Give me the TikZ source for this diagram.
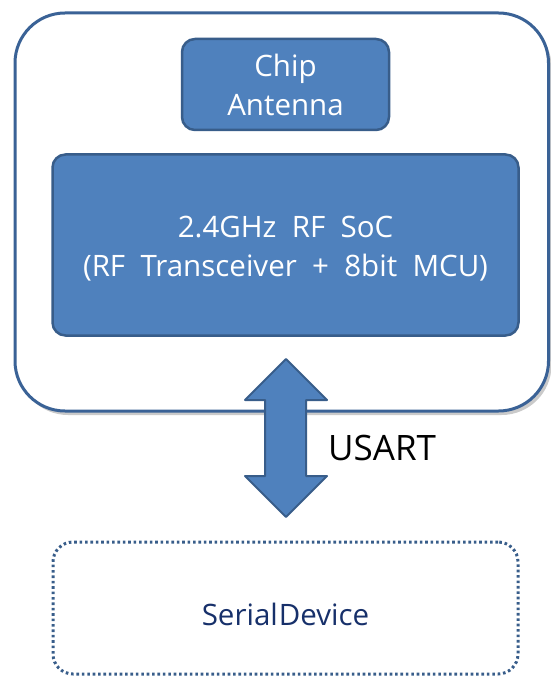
\documentclass[tikz,border=0pt]{standalone}
\usepackage{fontspec}
\setmainfont{Open Sans}
\usetikzlibrary{shadows,calc}
\definecolor{boxfill}{HTML}{4F81BD}
\definecolor{boxline}{HTML}{385D8A}
\definecolor{outerline}{HTML}{3A6296}
\definecolor{navytext}{HTML}{17306A}
\tikzset{
  blockbox/.style={draw=boxline, fill=boxfill, line width=2.5pt, rounded corners=13pt,
    text=white, align=center, font=\fontsize{29.5}{39}\selectfont, inner sep=0pt},
  moduleframe/.style={draw=outerline, line width=3pt, rounded corners=50pt, fill=white,
    drop shadow={shadow xshift=3pt, shadow yshift=-4pt, opacity=0.35, fill=black!60}},
  devicebox/.style={draw=boxline, line width=3pt, dash pattern=on 2.6pt off 2.8pt,
    rounded corners=20pt, text=navytext, font=\fontsize{29.5}{36}\selectfont},
  busarrow/.style={draw=boxline, fill=boxfill, line width=2pt, line join=round},
  buslabel/.style={text=black, font=\fontsize{35}{40}\selectfont, anchor=base west, inner sep=0pt}
}
\begin{document}
\begin{tikzpicture}[x=1pt, y=-1pt]
  \useasboundingbox (0,0) rectangle (550,684);
  % module outline
  \draw[moduleframe] (15,13) rectangle (548.5,411);
  % antenna and SoC blocks
  \node[blockbox, minimum width=207pt, minimum height=91pt] (antenna) at (285.5,84.5) {Chip\\Antenna};
  \node[blockbox, minimum width=466pt, minimum height=181pt] (soc) at (285.5,245) {};
  \node[text=white, align=center, font=\fontsize{29.5}{39}\selectfont, inner sep=0pt] (soclabel)
    at ($(soc.center)+(0,4)$) {2.4GHz\ \ RF\ \ SoC\\(RF\ \ Transceiver\ \ +\ \ 8bit\ \ MCU)};
  % external serial device
  \node[devicebox, minimum width=465pt, minimum height=132pt] (dev) at (285.5,608) {};
  \node[text=navytext, font=\fontsize{29.5}{36}\selectfont, inner sep=0pt] (devlabel)
    at ($(dev.center)+(0,6)$) {Serial\kern1pt Device};
  % bidirectional USART block arrow
  \coordinate (top) at (286,359);
  \coordinate (bot) at (286,517);
  \draw[busarrow] (top) -- ($(top)+(41,41)$) -- ($(top)+(20,41)$) -- ($(bot)+(20,-41)$)
    -- ($(bot)+(41,-41)$) -- (bot) -- ($(bot)+(-41,-41)$) -- ($(bot)+(-21,-41)$)
    -- ($(top)+(-21,41)$) -- ($(top)+(-41,41)$) -- cycle;
  \node[buslabel] (usart) at (328,460) {USART};
\end{tikzpicture}
\end{document}
